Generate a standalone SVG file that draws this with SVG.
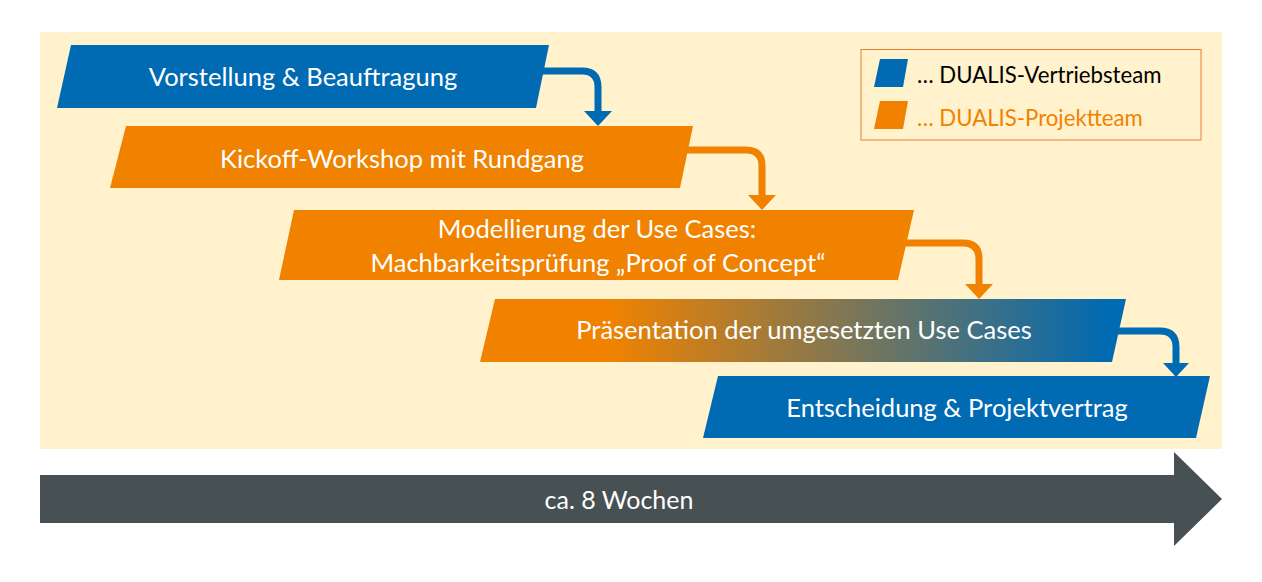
<svg xmlns="http://www.w3.org/2000/svg" width="1262" height="582" viewBox="0 0 1262 582">
<style>
.lbl{font-family:Lato,"Open Sans","Liberation Sans",sans-serif;font-size:25.5px;fill:#fff;text-anchor:middle}
.leg{font-family:Lato,"Open Sans","Liberation Sans",sans-serif;font-size:22.2px}
.blue{fill:#006AB3}
.orange{fill:#F08200}
.conB{fill:none;stroke:#006AB3;stroke-width:7}
.conO{fill:none;stroke:#F08200;stroke-width:7}
</style>
<defs>
<linearGradient id="g4" gradientUnits="userSpaceOnUse" x1="610" y1="0" x2="1110" y2="0">
<stop offset="0" stop-color="#F08200"/>
<stop offset="1" stop-color="#006AB3"/>
</linearGradient>
</defs>
<rect x="0" y="0" width="1262" height="582" fill="#fff"/>
<rect id="background" x="40" y="32" width="1182" height="417" fill="#FFF2CC"/>

<g id="connectors">
<path class="conB" d="M540 71 H582 Q598 71 598 87 V112"/>
<polygon class="blue" points="584,111 612,111 598,126"/>
<path class="conO" d="M684 150 H746 Q762 150 762 166 V196"/>
<polygon class="orange" points="748,195 776,195 762,210"/>
<path class="conO" d="M902 243 H963 Q979 243 979 259 V285"/>
<polygon class="orange" points="965,284 993,284 979,299"/>
<path class="conB" d="M1114 331 H1160 Q1176 331 1176 347 V364"/>
<polygon class="blue" points="1163,363 1189,363 1176,377"/>
</g>

<g id="n1">
<polygon class="blue" points="71,45 549,45 536,108 57,108"/>
<text class="lbl" x="303" y="86">Vorstellung &amp; Beauftragung</text>
</g>
<g id="n2">
<polygon class="orange" points="126,126 693,126 680,188 110,188"/>
<text class="lbl" x="402" y="168">Kickoff-Workshop mit Rundgang</text>
</g>
<g id="n3">
<polygon class="orange" points="294,210 914,210 898,280 279,280"/>
<text class="lbl" x="597" y="238">Modellierung der Use Cases:</text>
<text class="lbl" x="598" y="272">Machbarkeitsprüfung „Proof of Concept“</text>
</g>
<g id="n4">
<polygon fill="url(#g4)" points="495,299 1126,299 1112,362 480,362"/>
<text class="lbl" x="804" y="339">Präsentation der umgesetzten Use Cases</text>
</g>
<g id="n5">
<polygon class="blue" points="718,376 1210,376 1196,438 703,438"/>
<text class="lbl" x="957" y="417">Entscheidung &amp; Projektvertrag</text>
</g>

<g id="legend">
<rect x="861" y="49.5" width="340" height="90.5" fill="#FFF2CC" stroke="#ED7D31" stroke-width="1"/>
<polygon class="blue" points="880,59 908,59 903,87 874,87"/>
<polygon class="orange" points="880,101 908,101 903,129 874,129"/>
<text class="leg" x="917" y="83" fill="#000">… DUALIS-Vertriebsteam</text>
<text class="leg" x="917" y="126" fill="#F08200">… DUALIS-Projektteam</text>
</g>

<g id="timeline">
<polygon fill="#475052" points="40,475 1174,475 1174,452 1222,499 1174,546 1174,523 40,523"/>
<text class="lbl" x="619" y="509" style="font-size:25px">ca. 8 Wochen</text>
</g>
</svg>
